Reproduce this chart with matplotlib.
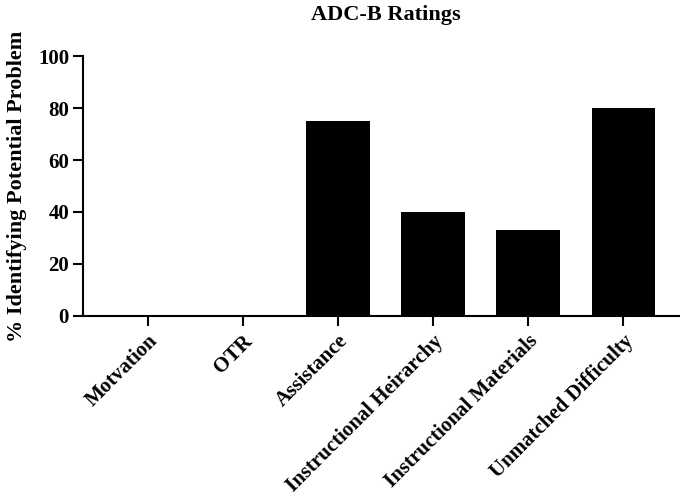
import matplotlib.pyplot as plt
import matplotlib.transforms as mtransforms

categories = ['Motvation', 'OTR', 'Assistance', 'Instructional Heirarchy',
              'Instructional Materials', 'Unmatched Difficulty']
percent = [0, 0, 75, 40, 33, 80]

plt.rcParams['font.family'] = ['Liberation Serif', 'DejaVu Serif']
plt.rcParams['font.weight'] = 'bold'

fig = plt.figure(figsize=(6.8, 4.98), dpi=100)
ax = fig.add_axes([0.122, 0.3655, 0.89, 0.522])

x = list(range(len(categories)))
ax.bar(x, percent, width=0.67, color='black')

ax.set_xlim(-0.68, 5.68)
ax.set_ylim(0, 100)
ax.set_yticks([0, 20, 40, 60, 80, 100])
ax.set_xticks(x)
ax.set_xticklabels(categories, rotation=45, ha='right', rotation_mode='anchor',
                   fontsize=15, fontweight='bold')
# nudge the slanted labels a little to the left, like the original
shift = mtransforms.ScaledTranslation(-5 / 100, 0, fig.dpi_scale_trans)
for lbl in ax.get_xticklabels():
    lbl.set_transform(lbl.get_transform() + shift)
for lbl in ax.get_yticklabels():
    lbl.set_fontsize(15)
    lbl.set_fontweight('bold')

ax.spines['top'].set_visible(False)
ax.spines['right'].set_visible(False)
ax.spines['left'].set_linewidth(1.5)
ax.spines['bottom'].set_linewidth(1.5)
ax.tick_params(axis='both', direction='out', length=7, width=1.5)
ax.tick_params(axis='y', pad=3)
ax.tick_params(axis='x', pad=4)

ax.set_ylabel('% Identifying Potential Problem', fontsize=16, fontweight='bold', labelpad=8)
ax.set_title('ADC-B Ratings', fontsize=16, fontweight='bold', pad=26)

fig.savefig('out.png', dpi=100)
